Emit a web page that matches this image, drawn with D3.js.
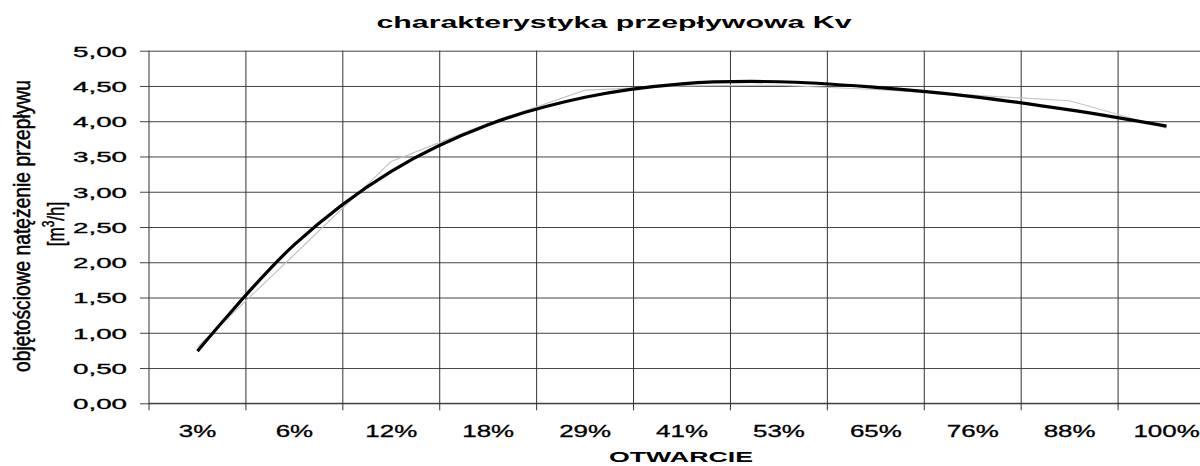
<!DOCTYPE html>
<html>
<head>
<meta charset="utf-8">
<script src="https://cdn.jsdelivr.net/npm/d3@7"></script>
<style>
  body { margin: 0; background: #fff; }
  svg { display: block; font-family: "Liberation Sans", Arial, sans-serif; }
</style>
</head>
<body>
<div id="chart"></div>
<script>
// values
const categories = ['3%', '6%', '12%', '18%', '29%', '41%', '53%', '65%', '76%', '88%', '100%'];
const measured = [0.80, 2.11, 3.43, 3.97, 4.44, 4.50, 4.51, 4.45, 4.37, 4.29, 3.90];
const trend = [0.74, 2.25, 3.29, 3.95, 4.34, 4.53, 4.56, 4.48, 4.35, 4.16, 3.93];
const yTicks = [0, 0.5, 1, 1.5, 2, 2.5, 3, 3.5, 4, 4.5, 5];

const width = 1200;
const height = 466;
const plot = { left: 149, right: 1215, top: 50.7, bottom: 403.3 };

const svg = d3.select('#chart')
  .append('svg')
  .attr('width', width)
  .attr('height', height);

const x = d3.scaleBand()
  .domain(categories)
  .range([plot.left, plot.right])
  .padding(0);

const y = d3.scaleLinear()
  .domain([0, 5])
  .range([plot.bottom, plot.top]);

// the original picture is stretched sideways, so text gets widened too
function widen(sel, k) {
  sel.each(function () {
    const w = this.getComputedTextLength();
    d3.select(this).attr('textLength', w * k).attr('lengthAdjust', 'spacingAndGlyphs');
  });
}

// horizontal grid + y tick labels
const yAxis = svg.append('g')
  .attr('transform', `translate(${plot.left},0)`)
  .call(d3.axisLeft(y)
    .tickValues(yTicks)
    .tickSize(9)
    .tickFormat(d => d3.format('.2f')(d).replace('.', ',')));

yAxis.select('.domain').remove();
yAxis.selectAll('.tick line')
  .attr('x1', -9)
  .attr('x2', plot.right - plot.left)
  .attr('stroke', '#444');
yAxis.selectAll('.tick text')
  .attr('x', -22)
  .attr('dy', '0.36em')
  .attr('fill', '#000')
  .attr('stroke', '#000')
  .attr('stroke-width', 0.35)
  .style('font-size', '15px')
  .call(widen, 1.85);

// vertical grid lines on category boundaries
const bounds = categories.map(c => x(c)).concat([plot.right]);
svg.append('g')
  .selectAll('line')
  .data(bounds)
  .enter()
  .append('line')
  .attr('x1', d => d)
  .attr('x2', d => d)
  .attr('y1', plot.top)
  .attr('y2', plot.bottom + 7)
  .attr('stroke', '#333')
  .attr('stroke-width', 1);

// x axis line
svg.append('line')
  .attr('x1', plot.left)
  .attr('x2', plot.right)
  .attr('y1', plot.bottom)
  .attr('y2', plot.bottom)
  .attr('stroke', '#333');

// x tick labels
const xAxis = svg.append('g')
  .attr('transform', `translate(0,${plot.bottom})`)
  .call(d3.axisBottom(x).tickSize(0));
xAxis.select('.domain').remove();
xAxis.selectAll('.tick text')
  .attr('y', 34)
  .attr('dy', 0)
  .attr('fill', '#000')
  .attr('stroke', '#000')
  .attr('stroke-width', 0.3)
  .style('font-size', '16px')
  .call(widen, 1.62);

const cx = d => x(d) + x.bandwidth() / 2;

// measured data (thin gray)
svg.append('path')
  .datum(categories.map((c, i) => [cx(c), y(measured[i])]))
  .attr('fill', 'none')
  .attr('stroke', '#c4c4c4')
  .attr('stroke-width', 1.2)
  .attr('d', d3.line());

// trend line (thick black)
svg.append('path')
  .datum(categories.map((c, i) => [cx(c), y(trend[i])]))
  .attr('fill', 'none')
  .attr('stroke', '#000')
  .attr('stroke-width', 3.2)
  .attr('d', d3.line().curve(d3.curveCatmullRom.alpha(0.5)));

// title
svg.append('text')
  .attr('x', 614)
  .attr('y', 28)
  .attr('text-anchor', 'middle')
  .style('font-size', '17px')
  .style('font-weight', 'bold')
  .attr('textLength', 475)
  .attr('lengthAdjust', 'spacingAndGlyphs')
  .text('charakterystyka przepływowa Kv');

// x title
svg.append('text')
  .attr('x', 681)
  .attr('y', 462)
  .attr('text-anchor', 'middle')
  .style('font-size', '15px')
  .style('font-weight', 'bold')
  .attr('textLength', 144)
  .attr('lengthAdjust', 'spacingAndGlyphs')
  .text('OTWARCIE');

// y title, two lines
const yMid = (plot.top + plot.bottom) / 2;
svg.append('text')
  .attr('transform', `translate(30,${yMid - 1}) rotate(-90) scale(1,1.45)`)
  .attr('text-anchor', 'middle')
  .attr('stroke', '#000')
  .attr('stroke-width', 0.35)
  .style('font-size', '16px')
  .attr('textLength', 292)
  .attr('lengthAdjust', 'spacingAndGlyphs')
  .text('objętościowe natężenie przepływu');

const unit = svg.append('text')
  .attr('transform', `translate(64,${yMid - 3}) rotate(-90) scale(1,1.45)`)
  .attr('text-anchor', 'middle')
  .attr('stroke', '#000')
  .attr('stroke-width', 0.35)
  .style('font-size', '17px');
unit.append('tspan').text('[m');
unit.append('tspan').attr('dy', -7).style('font-size', '12px').text('3');
unit.append('tspan').attr('dy', 7).text('/h]');
</script>
</body>
</html>
